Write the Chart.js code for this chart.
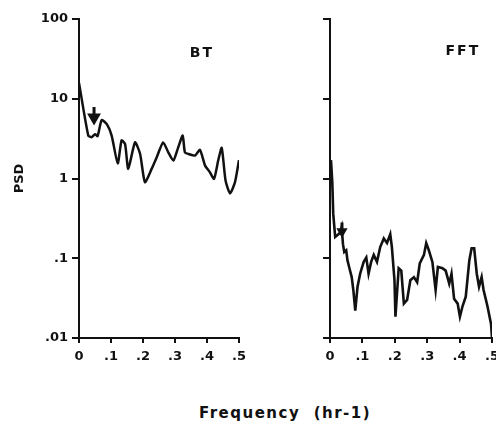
<!DOCTYPE html>
<html>
<head>
<meta charset="utf-8">
<script src="https://cdn.jsdelivr.net/npm/chart.js@4.4.1/dist/chart.umd.min.js"></script>
<style>
  body { margin: 0; background: #fff; width: 496px; height: 433px; position: relative; overflow: hidden; font-family: "DejaVu Sans", sans-serif; }
  .panel { position: absolute; top: 0; height: 375px; }
  #left { left: 0; width: 255px; }
  #right { left: 255px; width: 244px; }
  #xtitle { position: absolute; top: 404px; left: 0; width: 570px; text-align: center; font-weight: bold; font-size: 15px; letter-spacing: 1.5px; color: #111; }
</style>
</head>
<body>
<div class="panel" id="left"><canvas id="btChart"></canvas></div>
<div class="panel" id="right"><canvas id="fftChart"></canvas></div>
<div id="xtitle">Frequency&nbsp;&nbsp;(hr-1)</div>
<script>
// frequency (hr-1) and PSD
const freqTicks = [0, 0.1, 0.2, 0.3, 0.4, 0.5];
const freqTickLabels = ['0', '.1', '.2', '.3', '.4', '.5'];
const psdTicks = [0.01, 0.1, 1, 10, 100];
const psdTickLabels = ['.01', '.1', '1', '10', '100'];

const btFreq = [0, 0.029, 0.04, 0.05, 0.058, 0.071, 0.087, 0.102, 0.121, 0.133, 0.144, 0.154, 0.175, 0.191,
  0.206, 0.227, 0.243, 0.263, 0.279, 0.295, 0.31, 0.324, 0.331, 0.342, 0.3625, 0.378, 0.394, 0.409, 0.422,
  0.435, 0.446, 0.458, 0.472, 0.4875, 0.5];
const btPsd = [15.8, 3.45, 3.3, 3.6, 3.4, 5.4, 4.8, 3.45, 1.55, 3.0, 2.7, 1.32, 2.84, 2.03,
  0.9, 1.32, 1.85, 2.84, 2.13, 1.68, 2.46, 3.45, 2.13, 2.03, 1.94, 2.28, 1.45, 1.2, 0.99,
  1.68, 2.42, 0.94, 0.65, 0.9, 1.7];

const fftFreq = [0.003, 0.007, 0.010, 0.016, 0.026, 0.031, 0.036, 0.040, 0.044, 0.050, 0.054, 0.060, 0.067,
  0.072, 0.078, 0.085, 0.093, 0.104, 0.112, 0.119, 0.127, 0.135, 0.145, 0.155, 0.166, 0.176, 0.186, 0.191,
  0.199, 0.202, 0.212, 0.220, 0.228, 0.238, 0.248, 0.259, 0.269, 0.277, 0.290, 0.297, 0.305, 0.316, 0.326,
  0.333, 0.347, 0.357, 0.368, 0.375, 0.383, 0.394, 0.401, 0.409, 0.419, 0.430, 0.437, 0.445, 0.453, 0.460,
  0.468, 0.474, 0.486, 0.497, 0.5];
const fftPsd = [1.7, 0.9, 0.36, 0.185, 0.2, 0.21, 0.246, 0.15, 0.12, 0.126, 0.094, 0.075, 0.058,
  0.04, 0.022, 0.044, 0.064, 0.09, 0.102, 0.064, 0.09, 0.11, 0.09, 0.138, 0.177, 0.155, 0.2, 0.138,
  0.053, 0.0185, 0.075, 0.07, 0.027, 0.03, 0.053, 0.058, 0.05, 0.086, 0.11, 0.155, 0.126, 0.09, 0.04,
  0.078, 0.075, 0.07, 0.048, 0.064, 0.031, 0.027, 0.0185, 0.025, 0.033, 0.094, 0.133, 0.133, 0.064, 0.044,
  0.058, 0.04, 0.025, 0.015, 0.01];

// arrows: frequency, shaft top, head centre
const btArrow = [0.047, 7.9, 5.8];
const fftArrow = [0.037, 0.28, 0.217];

const ink = '#111';

const panelLabel = {
  id: 'panelLabel',
  afterDraw(chart, args, o) {
    const {ctx, scales: {x, y}} = chart;
    ctx.save();
    ctx.font = 'bold 14px "DejaVu Sans"';
    ctx.fillStyle = ink;
    ctx.textAlign = 'center';
    ctx.textBaseline = 'middle';
    ctx.letterSpacing = '2px';
    ctx.fillText(o.text, x.getPixelForValue(o.x), y.getPixelForValue(o.y));
    ctx.restore();
  }
};

function makeChart(id, freq, psd, arrow, opt) {
  return new Chart(document.getElementById(id), {
    type: 'line',
    data: {
      datasets: [{
        data: freq.map((f, i) => ({x: f, y: psd[i]})),
        borderColor: ink,
        borderWidth: opt.lineWidth,
        pointRadius: 0,
        tension: opt.tension
      }, {
        data: [{x: arrow[0], y: arrow[1]}, {x: arrow[0], y: arrow[2]}],
        borderColor: ink,
        borderWidth: 3,
        pointRadius: [0, opt.arrowSize],
        pointStyle: 'triangle',
        rotation: 180,
        pointBackgroundColor: ink,
        pointBorderColor: ink
      }]
    },
    options: {
      responsive: true,
      maintainAspectRatio: false,
      animation: false,
      layout: { padding: { top: 19, right: opt.padRight, left: 0, bottom: 0 } },
      plugins: {
        legend: { display: false },
        tooltip: { enabled: false },
        panelLabel: opt.label
      },
      scales: {
        x: {
          type: 'linear',
          min: 0,
          max: 0.5,
          afterBuildTicks: s => { s.ticks = freqTicks.map(v => ({value: v})); },
          afterFit: s => { s.height = 37; s.paddingLeft = 0; s.paddingRight = 0; },
          ticks: {
            callback: (v, i) => freqTickLabels[i],
            font: { family: 'DejaVu Sans', size: 13, weight: 'bold' },
            color: ink,
            padding: 6,
            maxRotation: 0
          },
          grid: { drawOnChartArea: false, drawTicks: true, tickLength: 5, color: ink, lineWidth: 2 },
          border: { display: true, color: ink, width: 2 }
        },
        y: {
          type: 'logarithmic',
          min: 0.01,
          max: 100,
          afterBuildTicks: s => { s.ticks = psdTicks.map(v => ({value: v})); },
          afterFit: s => { s.width = opt.yWidth; },
          ticks: {
            callback: (v, i) => opt.showY ? psdTickLabels[i] : '',
            font: { family: 'DejaVu Sans', size: 13, weight: 'bold' },
            color: ink,
            padding: 4
          },
          grid: { drawOnChartArea: false, drawTicks: true, tickLength: 7, color: ink, lineWidth: 2 },
          border: { display: true, color: ink, width: 2 },
          title: {
            display: opt.showY,
            text: 'PSD',
            color: ink,
            font: { family: 'DejaVu Sans', size: 13, weight: 'bold' },
            padding: { top: 12 }
          }
        }
      }
    },
    plugins: [panelLabel]
  });
}

makeChart('btChart', btFreq, btPsd, btArrow, {
  lineWidth: 2.5, tension: 0.2, arrowSize: 5, padRight: 16, yWidth: 79, showY: true,
  label: { text: 'BT', x: 0.384, y: 37.6 }
});
makeChart('fftChart', fftFreq, fftPsd, fftArrow, {
  lineWidth: 2.6, tension: 0, arrowSize: 3.5, padRight: 2, yWidth: 75, showY: false,
  label: { text: 'FFT', x: 0.41, y: 39.8 }
});
</script>
</body>
</html>
